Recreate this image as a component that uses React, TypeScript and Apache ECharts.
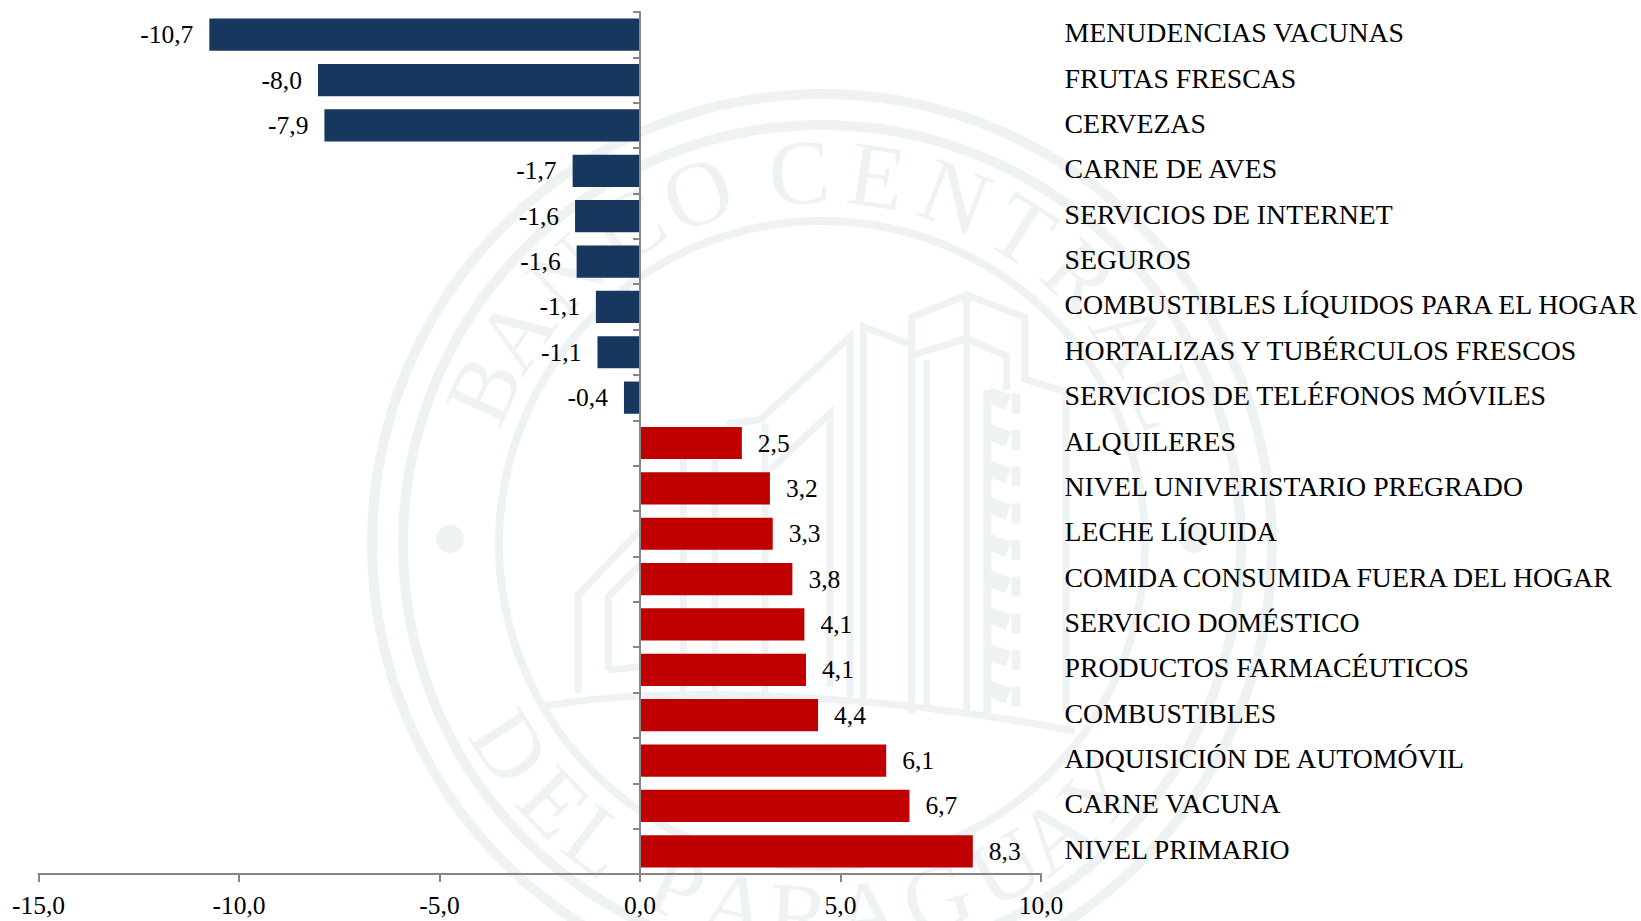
import React, { useEffect, useRef } from "react";
import * as echarts from "echarts";

const categories = [
  "MENUDENCIAS VACUNAS", "FRUTAS FRESCAS", "CERVEZAS", "CARNE DE AVES", "SERVICIOS DE INTERNET",
  "SEGUROS", "COMBUSTIBLES LÍQUIDOS PARA EL HOGAR", "HORTALIZAS Y TUBÉRCULOS FRESCOS",
  "SERVICIOS DE TELÉFONOS MÓVILES", "ALQUILERES", "NIVEL UNIVERISTARIO PREGRADO", "LECHE LÍQUIDA",
  "COMIDA CONSUMIDA FUERA DEL HOGAR", "SERVICIO DOMÉSTICO", "PRODUCTOS FARMACÉUTICOS",
  "COMBUSTIBLES", "ADQUISICIÓN DE AUTOMÓVIL", "CARNE VACUNA", "NIVEL PRIMARIO",
];
const values = [
  -10.74, -8.03, -7.87, -1.68, -1.62, -1.58, -1.1, -1.06, -0.4,
  2.54, 3.24, 3.31, 3.8, 4.1, 4.14, 4.44, 6.14, 6.72, 8.3,
];
const xMin = -15;
const xMax = 10;
const xStep = 5;

const NAVY = "#17375e";
const RED = "#c00000";
const AXIS = "#868686";
const WM = "#eef2f3";
const SERIF = "'Liberation Serif', 'Times New Roman', serif";

const CX = 822;
const CY = 544;
const topLetters: [string, number][] = [
  ["B", -65.5], ["A", -55.5], ["N", -43.5], ["C", -31], ["O", -19.5],
  ["C", -3.5], ["E", 8.5], ["N", 21], ["T", 32.5], ["R", 44], ["A", 56], ["L", 67],
];
const bottomLetters: [string, number][] = [
  ["D", -57], ["E", -46], ["L", -37], ["P", -23], ["A", -13.4], ["R", -3.5],
  ["A", 7], ["G", 18], ["U", 29.5], ["A", 38.7], ["Y", 48],
];
// building lines in a 3x local space whose origin is (560, 280)
const buildingLines: number[][][] = [
  [[1055, 1300], [1055, 112], [1220, 45], [1395, 112], [1395, 300]],
  [[1060, 225], [1220, 175], [1340, 228], [1340, 330]],
  [[1220, 35], [1220, 1290]],
  [[910, 1265], [910, 140], [1050, 192]],
  [[1100, 240], [1100, 1280]],
  [[870, 1260], [870, 170], [600, 420], [500, 430]],
  [[810, 1220], [810, 400], [630, 570]],
  [[55, 1240], [55, 945], [240, 750]],
  [[145, 1170], [145, 950], [240, 855]],
  [[145, 1170], [240, 1160]],
  [[370, 1250], [370, 530]],
  [[465, 1250], [465, 540]],
  [[615, 1240], [615, 430]],
  [[1385, 295], [1518, 335], [1518, 1300]],
];
const wmLine = (pts: number[][], w = 7) => ({
  type: "polyline",
  z: 0,
  silent: true,
  shape: { points: pts.map(([x, y]) => [560 + x / 3, 280 + y / 3]) },
  style: { stroke: WM, lineWidth: w, fill: "none" },
});

function watermark(): any[] {
  const out: any[] = [];
  [[455, 445], [424, 414], [327, 319]].forEach(([r, r0]) =>
    out.push({ type: "ring", z: 0, silent: true, shape: { cx: CX, cy: CY, r, r0 }, style: { fill: WM } })
  );
  [450, 1194].forEach((cx) =>
    out.push({ type: "circle", z: 0, silent: true, shape: { cx, cy: 539, r: 14 }, style: { fill: WM } })
  );
  topLetters.forEach(([ch, deg]) => {
    const a = (deg * Math.PI) / 180;
    out.push({
      type: "text", z: 0, silent: true,
      x: CX + 372 * Math.sin(a), y: CY - 372 * Math.cos(a), rotation: -a,
      style: { text: ch, fill: WM, font: `92px ${SERIF}`, align: "center", verticalAlign: "middle" },
    });
  });
  bottomLetters.forEach(([ch, deg]) => {
    const a = (deg * Math.PI) / 180;
    out.push({
      type: "text", z: 0, silent: true,
      x: CX + 372 * Math.sin(a), y: CY + 372 * Math.cos(a), rotation: a,
      style: { text: ch, fill: WM, font: `92px ${SERIF}`, align: "center", verticalAlign: "middle" },
    });
  });
  buildingLines.forEach((l) => out.push(wmLine(l)));
  // stepped column beside the main tower
  out.push(wmLine([[1282, 330], [1282, 1300]], 8));
  for (let y = 345; y < 1290; y += 110) {
    out.push(wmLine([[1285, y], [1345, y + 22]], 16));
    out.push(wmLine([[1368, y - 5], [1368, y + 55]], 9));
  }
  out.push({
    type: "bezierCurve", z: 0, silent: true,
    shape: { x1: 546, y1: 706, cpx1: 640, cpy1: 688, cpx2: 850, cpy2: 688, x2: 1075, y2: 731 },
    style: { stroke: WM, lineWidth: 7, fill: "none" },
  });
  return out;
}

export default function App() {
  const ref = useRef<HTMLDivElement>(null);
  useEffect(() => {
    const chart = echarts.init(ref.current!, undefined, { renderer: "svg" });
    const num = { fontFamily: SERIF, fontSize: 25.5, color: "#000" };
    chart.setOption({
      animation: false,
      backgroundColor: "#fff",
      graphic: { elements: watermark() },
      grid: { left: 38.5, right: 600, top: 12, bottom: 47, containLabel: false, outerBoundsMode: "none" },
      xAxis: {
        type: "value",
        min: xMin,
        max: xMax,
        interval: xStep,
        splitLine: { show: false },
        axisLine: { show: true, onZero: false, lineStyle: { color: AXIS, width: 2 } },
        axisTick: { show: true, length: 8, lineStyle: { color: AXIS, width: 2 } },
        axisLabel: { ...num, margin: 18, formatter: (v: number) => v.toFixed(1).replace(".", ",") },
      },
      yAxis: [
        {
          type: "category",
          inverse: true,
          z: 3,
          data: categories,
          axisLine: { show: true, onZero: true, lineStyle: { color: AXIS, width: 2 } },
          axisTick: { show: true, length: 7, lineStyle: { color: AXIS, width: 2 } },
          axisLabel: { show: false },
        },
        {
          type: "category",
          inverse: true,
          position: "right",
          data: categories,
          axisLine: { show: false },
          axisTick: { show: false },
          axisLabel: {
            fontFamily: SERIF, fontSize: 27.8, color: "#000",
            margin: 23.5, align: "left", interval: 0,
            verticalAlign: "bottom", lineHeight: 4,
          },
        },
      ],
      series: [
        {
          type: "bar",
          yAxisIndex: 0,
          barCategoryGap: "29%",
          data: values.map((v) => ({ value: v, itemStyle: { color: v < 0 ? NAVY : RED } })),
          label: {
            show: true,
            position: "outside",
            distance: 16,
            ...num,
            formatter: (p: any) => Number(p.value).toFixed(1).replace(".", ","),
          },
        },
      ],
    });
    return () => chart.dispose();
  }, []);
  return <div ref={ref} style={{ position: "fixed", left: 0, top: 0, width: 1641, height: 921 }} />;
}
